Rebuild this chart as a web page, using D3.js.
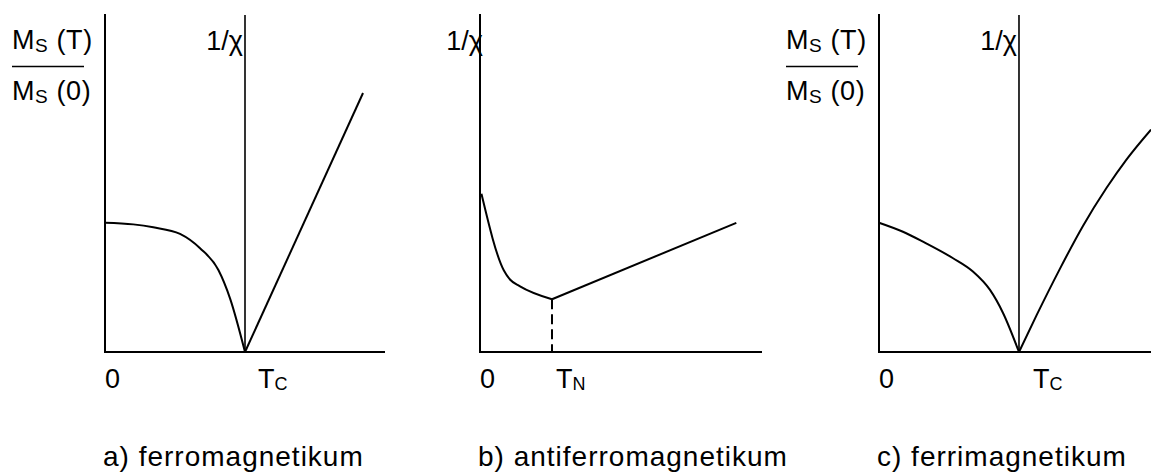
<!DOCTYPE html>
<html>
<head>
<meta charset="utf-8">
<script src="https://cdn.jsdelivr.net/npm/d3@7"></script>
<style>
  html, body { margin: 0; padding: 0; background: #fff; }
  svg { display: block; }
  text { font-family: "Liberation Sans", Arial, sans-serif; fill: #000; }
</style>
</head>
<body>
<svg id="chart" width="1151" height="475"></svg>
<script>
// Reduced temperature T / Tc (or T / TN) and the normalised quantities.
// a) ferromagnet: spontaneous magnetisation below Tc, Curie-Weiss 1/chi above.
const ferroT    = [0, 0.202, 0.345, 0.536, 0.679, 0.81, 0.893, 1.0];
const ferroM    = [1.0, 0.987, 0.964, 0.913, 0.802, 0.634, 0.415, 0];
const ferroChiT = [1.0, 1.843];
const ferroChi  = [0, 2.003];

// b) antiferromagnet: 1/chi with a minimum at the Neel temperature.
const antiLowT    = [0.02, 0.33, 0.42, 0.55, 1.0];
const antiLowChi  = [3.0, 1.55, 1.37, 1.25, 1.0];
const antiHighT   = [1.0, 3.56];
const antiHighChi = [1.0, 2.45];

// c) ferrimagnet: magnetisation below Tc, curved (hyperbolic) 1/chi above.
const ferriT    = [0, 0.171, 0.314, 0.529, 0.671, 0.793, 0.886, 1.0];
const ferriM    = [1.0, 0.930, 0.853, 0.725, 0.622, 0.480, 0.302, 0];
const ferriChiT = [1.0, 1.126, 1.293, 1.457, 1.626, 1.769, 1.943];
const ferriChi  = [0, 0.285, 0.645, 0.975, 1.27, 1.49, 1.72];

const captions = ["a) ferromagnetikum", "b) antiferromagnetikum", "c) ferrimagnetikum"];
const transitionLabels = [["T", "C"], ["T", "N"], ["T", "C"]];

const svg = d3.select("#chart");
const baseY = 352, topY = 14;

const panels = [
  { x0: 105, x1: 385, xMax: 2.0,   yMax: 2.614, left: true,  tl: 0, tlDx: 13,
    series: [{ t: ferroT, v: ferroM, curve: d3.curveMonotoneX },
             { t: ferroChiT, v: ferroChi, curve: d3.curveLinear }],
    mark: 1.0, markLine: "full" },
  { x0: 480, x1: 762, xMax: 3.917, yMax: 6.41,  left: false, tl: 1, tlDx: 4,
    series: [{ t: antiLowT, v: antiLowChi, curve: d3.curveMonotoneX },
             { t: antiHighT, v: antiHighChi, curve: d3.curveLinear }],
    mark: 1.0, markLine: "dash", markV: 1.0 },
  { x0: 879, x1: 1151, xMax: 1.943, yMax: 2.614, left: true, tl: 2, tlDx: 14,
    series: [{ t: ferriT, v: ferriM, curve: d3.curveMonotoneX },
             { t: ferriChiT, v: ferriChi, curve: d3.curveMonotoneX }],
    mark: 1.0, markLine: "full" }
];

panels.forEach((p, i) => {
  const x = d3.scaleLinear().domain([0, p.xMax]).range([p.x0, p.x1]);
  const y = d3.scaleLinear().domain([0, p.yMax]).range([baseY, topY]);
  const g = svg.append("g");

  // vertical line at the transition temperature (1/chi axis)
  if (p.markLine === "full") {
    g.append("line")
      .attr("x1", x(p.mark)).attr("x2", x(p.mark))
      .attr("y1", y(p.yMax) + 1).attr("y2", baseY)
      .attr("stroke", "#000").attr("stroke-width", 1.6);
  } else {
    g.append("line")
      .attr("x1", x(p.mark)).attr("x2", x(p.mark))
      .attr("y1", y(p.markV)).attr("y2", baseY)
      .attr("stroke", "#000").attr("stroke-width", 2)
      .attr("stroke-dasharray", "10,5");
  }

  // axes
  g.append("line")
    .attr("x1", x(0)).attr("x2", x(0)).attr("y1", y(p.yMax)).attr("y2", baseY + 1)
    .attr("stroke", "#000").attr("stroke-width", 2);
  g.append("line")
    .attr("x1", x(0) - 1).attr("x2", x(p.xMax)).attr("y1", baseY).attr("y2", baseY)
    .attr("stroke", "#000").attr("stroke-width", 2.2);

  // curves
  p.series.forEach(s => {
    const pts = s.t.map((t, k) => [t, s.v[k]]);
    g.append("path")
      .attr("d", d3.line().x(d => x(d[0])).y(d => y(d[1])).curve(s.curve)(pts))
      .attr("fill", "none").attr("stroke", "#000").attr("stroke-width", 2)
      .attr("stroke-linejoin", "round");
  });

  // y-axis label Ms(T)/Ms(0)
  if (p.left) {
    const lx = x(0) - 93;
    const num = g.append("text").attr("x", lx).attr("y", 49).attr("font-size", 27)
      .attr("letter-spacing", 0.6);
    num.append("tspan").text("M");
    num.append("tspan").attr("font-size", 19).attr("dy", 3).text("S");
    num.append("tspan").attr("dy", -3).text(" (T)");
    g.append("line")
      .attr("x1", lx).attr("x2", lx + 72).attr("y1", 66.5).attr("y2", 66.5)
      .attr("stroke", "#000").attr("stroke-width", 1.6);
    const den = g.append("text").attr("x", lx).attr("y", 100).attr("font-size", 27)
      .attr("letter-spacing", 0.6);
    den.append("tspan").text("M");
    den.append("tspan").attr("font-size", 19).attr("dy", 3).text("S");
    den.append("tspan").attr("dy", -3).text(" (0)");
  }

  // 1/chi label
  const chiX = p.markLine === "full" ? x(p.mark) - 2 : x(0) + 3;
  g.append("text").attr("x", chiX).attr("y", 50).attr("font-size", 27)
    .attr("text-anchor", "end").text("1/χ");

  // temperature axis labels
  g.append("text").attr("x", x(0)).attr("y", 388).attr("font-size", 27).text("0");
  const tl = g.append("text").attr("x", x(p.mark) + p.tlDx).attr("y", 388).attr("font-size", 27);
  tl.append("tspan").text(transitionLabels[p.tl][0]);
  tl.append("tspan").attr("font-size", 18).attr("dy", 2).text(transitionLabels[p.tl][1]);

  // caption
  g.append("text").attr("x", x(0) - 2).attr("y", 466).attr("font-size", 28)
    .attr("letter-spacing", 1.0).text(captions[i]);
});
</script>
</body>
</html>
